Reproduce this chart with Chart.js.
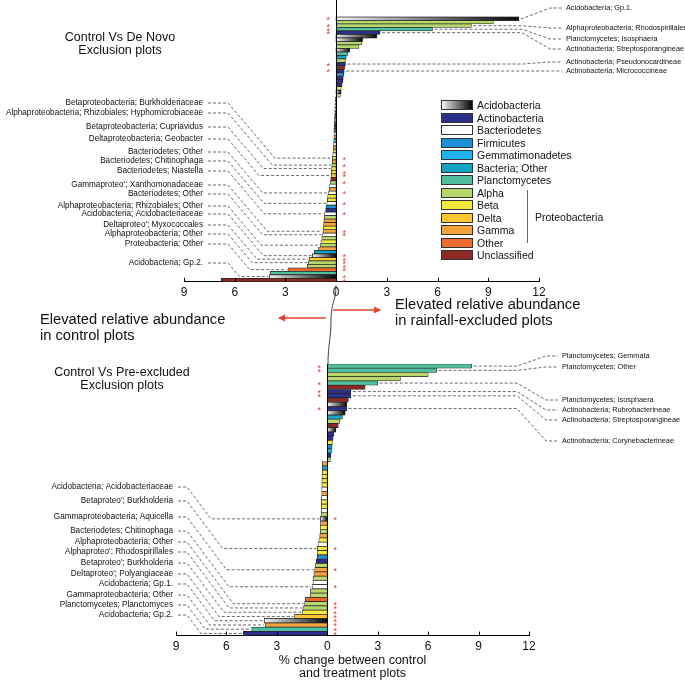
<!DOCTYPE html>
<html>
<head>
<meta charset="utf-8">
<script src="https://cdn.jsdelivr.net/npm/chart.js@4.4.1/dist/chart.umd.min.js"></script>
<style>
  body { margin: 0; background: #fff; width: 685px; height: 680px; position: relative; overflow: hidden; font-family: "Liberation Sans", Arial, sans-serif; color: #111; }
  canvas { position: absolute; left: 0; }
  #topChart { top: 0; }
  #botChart { top: 340px; }
  .txt { position: absolute; white-space: nowrap; }
  .title { font-size: 12.5px; line-height: 13px; text-align: center; width: 200px; }
  .mid { font-size: 14.7px; line-height: 15.5px; }
  #legend { position: absolute; left: 441px; top: 99px; font-size: 10.5px; }
  .row { height: 12.5px; display: flex; align-items: center; }
  .sw { width: 30px; height: 8px; border: 1px solid #333; margin-right: 4px; }
  svg { position: absolute; left: 0; top: 0; }
</style>
</head>
<body>
<canvas id="topChart" width="685" height="308"></canvas>
<canvas id="botChart" width="685" height="350"></canvas>

<svg width="685" height="680">
  <defs>
    <marker id="ah" markerWidth="8" markerHeight="8" refX="6" refY="4" orient="auto" markerUnits="userSpaceOnUse">
      <path d="M0,0.5 L7,4 L0,7.5 z" fill="#e8402f"/>
    </marker>
  </defs>
  <path d="M336 285 C 336 302, 331 302, 331 320 S 328 345, 328 364" fill="none" stroke="#111" stroke-width="0.8"/>
  <line x1="326" y1="318" x2="279" y2="318" stroke="#e8402f" stroke-width="1.5" marker-end="url(#ah)"/>
  <line x1="333" y1="310" x2="380" y2="310" stroke="#e8402f" stroke-width="1.5" marker-end="url(#ah)"/>
  <line x1="527.5" y1="190" x2="527.5" y2="243" stroke="#666" stroke-width="1"/>
</svg>

<div class="txt title" style="left:20px; top:31px;">Control Vs De Novo<br>Exclusion plots</div>
<div class="txt title" style="left:22px; top:366px;">Control Vs Pre-excluded<br>Exclusion plots</div>
<div class="txt mid" style="left:40px; top:312px;">Elevated relative abundance<br>in control plots</div>
<div class="txt mid" style="left:395px; top:297px;">Elevated relative abundance<br>in rainfall-excluded plots</div>
<div class="txt" style="left:535px; top:211px; font-size:10.5px;">Proteobacteria</div>
<div id="legend"></div>

<script>
// taxonomic groups (legend order)
const groupKeys = ['Ac', 'Ax', 'Bd', 'Fi', 'Ge', 'BO', 'Pl', 'Al', 'Be', 'De', 'Ga', 'Ot', 'Un'];
const groupNames = ['Acidobacteria', 'Actinobacteria', 'Bacteriodetes', 'Firmicutes', 'Gemmatimonadetes',
  'Bacteria; Other', 'Planctomycetes', 'Alpha', 'Beta', 'Delta', 'Gamma', 'Other', 'Unclassified'];
const groupColors = ['#888888', '#2d3089', '#ffffff', '#1f8fd6', '#1fb5ec', '#17a3c5', '#4fbf9f',
  '#b8d76c', '#f4ea3b', '#fdc82f', '#f5a33c', '#ee6b30', '#8c2a26'];

const tickValues = [-9, -6, -3, 0, 3, 6, 9, 12];

// Control vs De Novo exclusion plots (% change, negative = elevated in control)
const topValues = [
  10.8, 9.3, 8.0, 5.7, 2.6, 2.4, 1.55, 1.5, 1.35, 0.8, 0.7, 0.6, 0.55, 0.55, 0.5, 0.48, 0.45, 0.42, 0.4, 0.35, 0.3, 0.28, 0.25,
  -0.05, -0.06, -0.07, -0.08, -0.08, -0.09, -0.1, -0.1, -0.11, -0.12, -0.12, -0.13, -0.14, -0.15, -0.16, -0.18, -0.2,
  -0.22, -0.23, -0.25, -0.27, -0.28, -0.3, -0.32, -0.35, -0.38, -0.4, -0.45, -0.5, -0.52, -0.55, -0.6, -0.62, -0.68,
  -0.7, -0.72, -0.74, -0.75, -0.78, -0.8, -0.85, -0.9, -0.95, -1.05, -1.3, -1.4, -1.6, -1.65, -1.7, -2.85, -3.9, -3.95, -6.8
];
const topGroups = [
  'Ac', 'Al', 'Al', 'Pl', 'Ax', 'Ac', 'Ac', 'Al', 'Al', 'Ac', 'Pl', 'BO', 'Al', 'Ax', 'Un', 'Ax', 'Fi', 'Ax', 'Ax', 'Ax', 'Be', 'Ac', 'Al',
  'Fi', 'Pl', 'Al', 'Al', 'Ax', 'Un', 'Ga', 'Ax', 'Un', 'Ac', 'Bd', 'Ga', 'Ge', 'Bd', 'Ga', 'Be', 'Bd',
  'Be', 'Ga', 'Al', 'Be', 'Be', 'De', 'Un', 'Al', 'Bd', 'Ga', 'Bd', 'Be', 'Be', 'Bd', 'Fi', 'Ax', 'Bd',
  'Al', 'Ga', 'Ga', 'Be', 'Ga', 'Bd', 'Al', 'Be', 'Al', 'Ga', 'BO', 'Ac', 'De', 'Al', 'Al', 'Ot', 'Pl', 'Ac', 'Un'
];
const topStars = [0, 2, 3, 4, 13, 15, 40, 42, 44, 45, 47, 50, 53, 56, 61, 62, 68, 69, 70, 71, 72, 74, 75];
const topRightIdx = [0, 2, 3, 4, 13, 15];
const topRightText = ['Acidobacteria; Gp.1.', 'Alphaproteobacteria; Rhodospirillales', 'Planctomycetes; Isosphaera',
  'Actinobacteria; Streptosporangineae', 'Actinobacteria; Pseudonocardineae', 'Actinobacteria; Micrococcineae'];
const topLeftIdx = [40, 42, 43, 45, 50, 53, 56, 61, 62, 65, 68, 69, 70, 72, 74];
const topLeftText = ['Betaproteobacteria; Burkholderiaceae', 'Alphaproteobacteria; Rhizobiales; Hyphomicrobiaceae',
  'Betaproteobacteria; Cupriavidus', 'Deltaproteobacteria; Geobacter', 'Bacteriodetes; Other', 'Bacteriodetes; Chitinophaga',
  'Bacteriodetes; Niastella', "Gammaproteo'; Xanthomonadaceae", 'Bacteriodetes; Other', 'Alphaproteobacteria; Rhizobiales; Other',
  'Acidobacteria; Acidobacteriaceae', "Deltaproteo'; Myxococcales", 'Alphaproteobacteria; Other', 'Proteobacteria; Other',
  'Acidobacteria; Gp.2.'];

// Control vs Pre-excluded exclusion plots
const botValues = [
  8.6, 6.5, 6.0, 4.35, 3.0, 2.25, 1.4, 1.4, 1.25, 1.15, 1.15, 1.05, 0.9, 0.75, 0.65, 0.5, 0.4, 0.35, 0.3, 0.28, 0.25, 0.22, 0.18,
  -0.3, -0.3, -0.3, -0.32, -0.32, -0.32, -0.33, -0.33, -0.35, -0.35, -0.35, -0.35, -0.37, -0.4, -0.4, -0.42, -0.42, -0.45,
  -0.5, -0.55, -0.6, -0.6, -0.6, -0.65, -0.7, -0.75, -0.8, -0.85, -0.85, -0.9, -1.0, -1.0, -1.3, -1.35, -1.45, -1.5, -1.95,
  -3.75, -3.7, -4.5, -5.0
];
const botGroups = [
  'Pl', 'Pl', 'Al', 'Al', 'Pl', 'Un', 'Ax', 'Ax', 'Un', 'Ac', 'Ax', 'Ac', 'BO', 'Al', 'Un', 'Ac', 'Ax', 'Ax', 'Be', 'Fi', 'Ge', 'Ax', 'Al',
  'Ga', 'BO', 'Be', 'Be', 'Be', 'Be', 'Bd', 'Ga', 'Bd', 'Be', 'Be', 'Bd', 'Al', 'Ac', 'Ga', 'Be', 'Al', 'Ga',
  'Be', 'Bd', 'Be', 'Be', 'Fi', 'Ax', 'Al', 'Ga', 'Ga', 'Al', 'Bd', 'Bd', 'Al', 'Al', 'Ot', 'Al', 'Al', 'Be', 'De',
  'Ac', 'Ga', 'Pl', 'Ax'
];
const botStars = [0, 1, 4, 6, 7, 10, 36, 43, 48, 52, 56, 57, 58, 59, 60, 61, 62, 63];
const botRightIdx = [0, 1, 4, 6, 7, 10];
const botRightText = ['Planctomycetes; Gemmata', 'Planctomycetes; Other', 'Planctomycetes; Isosphaera',
  'Actinobacteria; Rubrobacterineae', 'Actinobacteria; Streptosporangineae', 'Actinobacteria; Corynebacterineae'];
const botLeftIdx = [36, 43, 48, 52, 56, 57, 58, 59, 60, 61, 62, 63];
const botLeftText = ['Acidobacteria; Acidobacteriaceae', "Betaproteo'; Burkholderia", 'Gammaproteobacteria; Aquicella',
  'Bacteriodetes; Chitinophaga', 'Alphaproteobacteria; Other', "Alphaproteo'; Rhodospirillales", "Betaproteo'; Burkholderia",
  "Deltaproteo'; Polyangiaceae", 'Acidobacteria; Gp.1.', 'Gammaproteobacteria; Other', 'Planctomycetes; Planctomyces',
  'Acidobacteria; Gp.2.'];

const FONT = '"Liberation Sans", Arial, sans-serif';
const colorOf = (g) => groupColors[groupKeys.indexOf(g)];

// draws gradient bars, zero line, inward ticks, asterisks and the dashed label leaders
const leaderPlugin = {
  id: 'leaders',
  afterDatasetsDraw(chart, args, o) {
    const ctx = chart.ctx;
    const meta = chart.getDatasetMeta(0);
    const xs = chart.scales.x;
    const area = chart.chartArea;
    const x0 = xs.getPixelForValue(0);
    ctx.save();

    meta.data.forEach((bar, i) => {
      if (o.groups[i] !== 'Ac') return;
      const p = bar.getProps(['x', 'y', 'base', 'height'], true);
      const l = Math.min(p.x, p.base), r = Math.max(p.x, p.base);
      const t = p.y - p.height / 2;
      const g = ctx.createLinearGradient(l, 0, r, 0);
      g.addColorStop(0, '#f2f2f2');
      g.addColorStop(1, '#080808');
      ctx.fillStyle = g;
      ctx.fillRect(l, t, r - l, p.height);
      ctx.strokeStyle = '#222';
      ctx.lineWidth = 0.7;
      ctx.strokeRect(l, t, r - l, p.height);
    });

    ctx.strokeStyle = '#000';
    ctx.lineWidth = 1;
    ctx.beginPath();
    ctx.moveTo(Math.round(x0) + 0.5, o.zeroTop);
    ctx.lineTo(Math.round(x0) + 0.5, area.bottom);
    tickValues.forEach((v) => {
      const x = Math.round(xs.getPixelForValue(v)) + 0.5;
      ctx.moveTo(x, area.bottom);
      ctx.lineTo(x, area.bottom - 4);
    });
    ctx.stroke();

    ctx.fillStyle = '#e8392c';
    ctx.font = '9px ' + FONT;
    ctx.textAlign = 'center';
    ctx.textBaseline = 'middle';
    o.stars.forEach((i) => {
      const side = o.values[i] > 0 ? -1 : 1;
      ctx.fillText('*', x0 + side * o.starGap, meta.data[i].y + 2);
    });

    ctx.setLineDash([3, 2]);
    ctx.strokeStyle = '#444';
    ctx.lineWidth = 0.8;
    ctx.fillStyle = '#111';

    ctx.font = o.leftFont + 'px ' + FONT;
    o.leftIdx.forEach((i, k) => {
      const by = meta.data[i].y;
      const ly = o.leftY[k];
      const end = meta.data[i].x - 1;
      const sx = o.leftX + 5, dx = o.leftX + o.leftDash;
      let tx = dx + Math.abs(by - ly) * o.slope;
      if (tx > end - 2) tx = end - 2;
      ctx.beginPath();
      ctx.moveTo(sx, ly);
      ctx.lineTo(dx, ly);
      ctx.lineTo(tx, by);
      ctx.lineTo(end, by);
      ctx.stroke();
      ctx.textAlign = 'right';
      ctx.fillText(o.leftText[k], o.leftX, ly);
    });

    ctx.font = o.rightFont + 'px ' + FONT;
    o.rightIdx.forEach((i, k) => {
      const by = meta.data[i].y;
      const ly = o.rightY[k];
      const straight = Math.abs(by - ly) < 2;
      const start = meta.data[i].x + 2;
      ctx.beginPath();
      ctx.moveTo(start, by);
      if (straight) {
        ctx.lineTo(o.rightX - 4, by);
      } else {
        ctx.lineTo(Math.max(start, o.rightTurn), by);
        ctx.lineTo(o.rightTurn2, ly);
        ctx.lineTo(o.rightX - 4, ly);
      }
      ctx.stroke();
      ctx.textAlign = 'left';
      ctx.fillText(o.rightText[k], o.rightX, straight ? by : ly);
    });
    ctx.restore();
  }
};

function makeChart(id, values, groups, padding, tickPad, xTitle, opts) {
  const ctx = document.getElementById(id).getContext('2d');
  return new Chart(ctx, {
    type: 'bar',
    data: {
      labels: values.map((v, i) => String(i)),
      datasets: [{
        data: values,
        backgroundColor: groups.map(colorOf),
        borderColor: '#222',
        borderWidth: 0.7,
        borderSkipped: false,
        categoryPercentage: 1,
        barPercentage: 1,
      }]
    },
    options: {
      indexAxis: 'y',
      responsive: false,
      animation: false,
      devicePixelRatio: 1,
      layout: { padding: padding },
      scales: {
        x: {
          type: 'linear',
          min: -9,
          max: 12,
          grid: { display: false, drawTicks: false, tickLength: 0 },
          border: { display: true, color: '#000', width: 1 },
          ticks: {
            stepSize: 3,
            color: '#111',
            padding: tickPad,
            font: { family: FONT, size: 12, lineHeight: 1.1 },
            callback: (v) => Math.abs(v)
          },
          title: xTitle
        },
        y: { type: 'category', display: false }
      },
      plugins: {
        legend: { display: false },
        tooltip: { enabled: false },
        leaders: Object.assign({ values: values, groups: groups }, opts)
      }
    },
    plugins: [leaderPlugin]
  });
}

makeChart('topChart', topValues, topGroups, { left: 184, right: 146, top: 17, bottom: 5 }, 4, { display: false }, {
  stars: topStars, zeroTop: 0, starGap: 8,
  leftIdx: topLeftIdx, leftText: topLeftText, leftX: 203, leftDash: 25, slope: 0.85, leftFont: 8.2,
  leftY: [103, 113, 127, 139, 152, 161, 171, 185, 194, 206, 214, 225, 234, 244, 263],
  rightIdx: topRightIdx, rightText: topRightText, rightX: 566, rightTurn: 522, rightTurn2: 550, rightFont: 7.3,
  rightY: [8, 28, 39, 49, 62, 70]
});

makeChart('botChart', botValues, botGroups, { left: 176, right: 156, top: 24, bottom: 10 }, 5, {
  display: true,
  text: ['% change between control', 'and treatment plots'],
  color: '#111',
  font: { family: FONT, size: 12.5, lineHeight: 1.05 },
  padding: { top: -5, bottom: 0 }
}, {
  stars: botStars, zeroTop: 24, starGap: 8,
  leftIdx: botLeftIdx, leftText: botLeftText, leftX: 173, leftDash: 14, slope: 0.75, leftFont: 8.2,
  leftY: [147, 161, 177, 191, 202, 212, 223, 234, 244, 255, 265, 275],
  rightIdx: botRightIdx, rightText: botRightText, rightX: 562, rightTurn: 517, rightTurn2: 546, rightFont: 7.3,
  rightY: [16, 27, 60, 70, 80, 101]
});

// legend built from the group arrays
const legend = document.getElementById('legend');
groupNames.forEach((name, i) => {
  const row = document.createElement('div');
  row.className = 'row';
  const sw = document.createElement('div');
  sw.className = 'sw';
  sw.style.background = groupKeys[i] === 'Ac' ? 'linear-gradient(to right, #f4f4f4, #050505)' : groupColors[i];
  row.appendChild(sw);
  const t = document.createElement('span');
  t.textContent = name;
  row.appendChild(t);
  legend.appendChild(row);
});
</script>
</body>
</html>
